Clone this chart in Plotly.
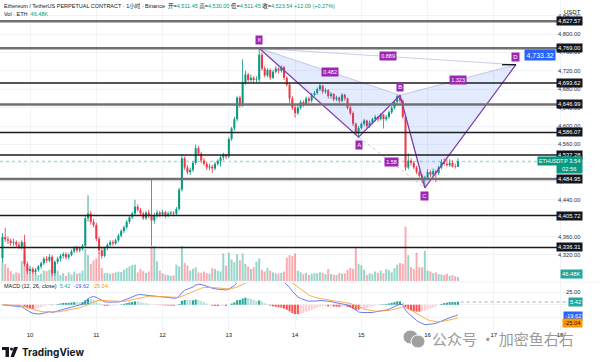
import plotly.graph_objects as go
import pandas as pd

# ---------------- data (hourly candles, x = hours since day "10" 00:00) ----------------
hours = list(range(-10, 156))

opens = [4313,4359,4354,4351,4346,4348,4342,4338,4348,4300,
         4285,4290,4283,4288,4295,4302,4312,4308,4316,4280,
         4305,4312,4318,4322,4315,4320,4328,4335,4330,4334,
         4340,4400,4410,4392,4385,4355,4330,4318,4335,4342,
         4348,4345,4352,4362,4372,4380,4392,4402,4410,4425,
         4418,4410,4400,4412,4405,4395,4405,4412,4408,4413,
         4406,4410,4412,4410,4420,4462,4530,4510,4500,4505,
         4520,4552,4540,4525,4518,4510,4512,4508,4518,4524,
         4532,4538,4534,4572,4595,4615,4662,4645,4695,4712,
         4700,4705,4700,4701,4755,4725,4710,4722,4705,4718,
         4725,4720,4728,4705,4690,4660,4640,4628,4640,4652,
         4648,4660,4655,4668,4672,4680,4688,4675,4678,4665,
         4670,4658,4662,4655,4668,4660,4640,4628,4605,4584,
         4596,4605,4612,4600,4608,4615,4620,4615,4625,4615,
         4620,4630,4640,4652,4665,4655,4620,4510,4525,4520,
         4510,4500,4492,4485,4488,4500,4495,4502,4498,4510,
         4522,4518,4515,4520,4512,4511.45]
highs = [4368,4379,4360,4356,4355,4352,4348,4352,4364,4306,
         4296,4294,4292,4299,4306,4316,4318,4322,4320,4308,
         4316,4322,4326,4326,4324,4332,4339,4340,4338,4344,
         4406,4450,4416,4398,4390,4360,4336,4338,4346,4352,
         4352,4356,4366,4376,4384,4396,4406,4414,4440,4430,
         4422,4414,4416,4418,4483,4412,4418,4416,4418,4416,
         4414,4416,4415,4424,4466,4538,4534,4515,4510,4524,
         4560,4556,4544,4530,4522,4518,4516,4522,4528,4536,
         4542,4540,4576,4598,4620,4665,4666,4745,4720,4716,
         4712,4708,4708,4769,4760,4730,4726,4725,4722,4730,
         4728,4732,4731,4708,4694,4665,4645,4644,4656,4656,
         4664,4664,4672,4676,4684,4692,4690,4682,4680,4674,
         4672,4666,4664,4672,4670,4662,4644,4632,4608,4600,
         4608,4616,4614,4612,4618,4624,4622,4628,4627,4624,
         4634,4644,4656,4668,4668,4658,4624,4541,4530,4524,
         4514,4504,4496,4492,4506,4504,4508,4505,4514,4528,
         4530,4528,4528,4526,4518,4530]
lows = [4305,4348,4344,4340,4340,4336,4333,4332,4295,4278,
        4280,4279,4278,4284,4290,4298,4303,4304,4274,4276,
        4300,4306,4312,4310,4311,4317,4324,4325,4326,4330,
        4336,4392,4386,4380,4350,4322,4312,4315,4330,4338,
        4340,4342,4348,4358,4368,4376,4388,4398,4406,4414,
        4406,4396,4396,4400,4340,4388,4400,4402,4404,4400,
        4402,4405,4404,4406,4416,4458,4505,4495,4494,4500,
        4516,4535,4520,4514,4505,4504,4498,4504,4514,4512,
        4526,4528,4530,4568,4590,4610,4640,4642,4690,4696,
        4695,4694,4694,4696,4720,4706,4706,4700,4702,4714,
        4714,4716,4700,4686,4650,4635,4618,4624,4636,4642,
        4644,4650,4651,4664,4668,4676,4670,4670,4660,4660,
        4654,4654,4650,4652,4655,4636,4624,4600,4580,4576,
        4592,4600,4596,4596,4604,4610,4610,4612,4595,4611,
        4616,4626,4636,4648,4650,4616,4503,4506,4514,4506,
        4496,4488,4476,4466,4484,4490,4491,4478,4494,4506,
        4514,4512,4511,4510,4508,4511.45]
closes = [4359,4354,4351,4346,4348,4342,4338,4348,4300,4285,
          4290,4283,4288,4295,4302,4312,4308,4316,4280,4305,
          4312,4318,4322,4315,4320,4328,4335,4330,4334,4340,
          4400,4410,4392,4385,4355,4330,4318,4335,4342,4348,
          4345,4352,4362,4372,4380,4392,4402,4410,4425,4418,
          4410,4400,4412,4405,4395,4405,4412,4408,4413,4406,
          4410,4412,4410,4420,4462,4530,4510,4500,4505,4520,
          4552,4540,4525,4518,4510,4512,4508,4518,4524,4532,
          4538,4534,4572,4595,4615,4662,4645,4695,4712,4700,
          4705,4700,4701,4755,4725,4710,4722,4705,4718,4725,
          4720,4728,4705,4690,4660,4640,4628,4640,4652,4648,
          4660,4655,4668,4672,4680,4688,4675,4678,4665,4670,
          4658,4662,4655,4668,4660,4640,4628,4605,4584,4596,
          4605,4612,4600,4608,4615,4620,4615,4625,4615,4620,
          4630,4640,4652,4665,4655,4620,4510,4525,4520,4510,
          4500,4492,4485,4488,4500,4495,4502,4498,4510,4522,
          4518,4515,4520,4512,4511.45,4523.54]
volumes_k = [232,197,151,116,81,100,90,232,310,150,
             95,110,90,70,85,120,115,130,175,80,
             120,70,90,60,100,75,110,85,95,120,
             371,300,200,240,260,330,150,90,95,85,
             90,100,110,105,130,150,170,185,190,100,
             140,115,95,110,400,405,230,120,90,75,
             70,60,65,190,170,405,210,180,120,140,
             160,100,95,110,90,85,150,140,120,110,
             320,180,330,250,220,310,240,320,200,170,
             140,160,225,260,130,110,150,120,100,90,
             85,95,110,270,300,290,320,120,100,80,
             95,70,85,90,90,100,95,80,140,80,
             75,70,95,85,90,130,150,140,395,200,
             180,130,70,90,80,110,95,120,90,140,
             125,100,150,190,210,200,630,300,160,140,
             330,160,160,350,120,110,90,100,80,75,
             70,85,60,70,55,46.48]

day_ticks = [0, 24, 48, 72, 96, 120, 144, 168, 192]
day_labels = ["10", "11", "12", "13", "14", "15", "16", "17", "18"]

price_ticks = [4840, 4800, 4760, 4720, 4680, 4640, 4600, 4560, 4520, 4480, 4440, 4400, 4360, 4320]
level_prices = [4827.57, 4769.00, 4693.62, 4646.99, 4586.07, 4537.28, 4484.95, 4405.72, 4336.31]
level_kinds = ["grey", "grey", "black", "grey", "black", "black", "grey", "black", "black"]

pattern_names = ["X", "A", "B", "C", "D"]
pattern_hours = [83, 119, 134, 143, 176]
pattern_prices = [4769.00, 4576.00, 4667.00, 4466.00, 4733.32]
ratio_texts = ["0.482", "1.58", "1.323", "0.889"]
ratio_pairs = [(0, 2), (1, 3), (2, 4), (0, 4)]

last_price = 4523.54
last_vol_text = "46.48K"
macd_tick = 25.0
macd_hist_last, macd_line_last, macd_signal_last = 5.42, -19.62, -25.04

# ---------------- helpers ----------------
W, H = 600, 362
def px(x):
    return x / W
def py(y):
    return 1 - y / H

UP, DOWN = "#089981", "#f23645"
FONT = "Liberation Sans, Noto Sans CJK SC, sans-serif"

x_dom = [0, px(571)]
main_dom = [py(281), 1.0]
macd_dom = [py(330), py(283)]

fig = go.Figure()

is_up = [c >= o for o, c in zip(opens, closes)]
vol_colors = ["rgba(8,153,129,0.42)" if u else "rgba(242,54,69,0.42)" for u in is_up]
candle_colors = [UP if u else DOWN for u in is_up]

# volume
fig.add_trace(go.Bar(x=hours, y=volumes_k, width=0.72, marker_color=vol_colors,
                     marker_line_width=0, xaxis="x", yaxis="y2", hoverinfo="skip"))
# wicks
fig.add_trace(go.Bar(x=hours, y=[h - l for h, l in zip(highs, lows)], base=lows, width=0.3,
                     marker_color=candle_colors, marker_line_width=0, xaxis="x", yaxis="y"))
# bodies
fig.add_trace(go.Bar(x=hours, y=[max(abs(c - o), 1.2) for o, c in zip(opens, closes)],
                     base=[min(o, c) for o, c in zip(opens, closes)], width=0.74,
                     marker_color=candle_colors, marker_line_width=0, xaxis="x", yaxis="y"))

# MACD computed from closes
s = pd.Series(closes)
macd = s.ewm(span=12, adjust=False).mean() - s.ewm(span=26, adjust=False).mean()
signal = macd.ewm(span=9, adjust=False).mean()
hist = (macd - signal).tolist()
hist_colors = []
for k, hv in enumerate(hist):
    prev = hist[k - 1] if k else hv
    if hv >= 0:
        hist_colors.append("#26a69a" if hv >= prev else "#b2dfdb")
    else:
        hist_colors.append("#ffcdd2" if hv > prev else "#ff5252")
fig.add_trace(go.Bar(x=hours, y=hist, width=0.75, marker_color=hist_colors, marker_line_width=0,
                     xaxis="x2", yaxis="y3"))
fig.add_trace(go.Scatter(x=hours, y=macd.tolist(), mode="lines", line=dict(color="#5b6cf0", width=0.9),
                         xaxis="x2", yaxis="y3"))
fig.add_trace(go.Scatter(x=hours, y=signal.tolist(), mode="lines", line=dict(color="#f7a640", width=0.9),
                         xaxis="x2", yaxis="y3"))

# XABCD pattern
X, A, B, C, D = range(5)
def pts(idx):
    return [pattern_hours[i] for i in idx], [pattern_prices[i] for i in idx]
for tri in [(X, A, B, X), (B, C, D, B)]:
    xs, ys = pts(tri)
    fig.add_trace(go.Scatter(x=xs, y=ys, mode="lines", fill="toself",
                             fillcolor="rgba(41,98,255,0.13)", line=dict(width=0),
                             xaxis="x", yaxis="y"))
for a, b in [(X, B), (B, D), (X, D)]:
    xs, ys = pts((a, b))
    fig.add_trace(go.Scatter(x=xs, y=ys, mode="lines", line=dict(color="rgba(150,130,200,0.55)", width=0.8),
                             xaxis="x", yaxis="y"))
xs, ys = pts((A, C))
fig.add_trace(go.Scatter(x=xs, y=ys, mode="lines", line=dict(color="rgba(140,140,160,0.6)", width=0.8, dash="dot"),
                         xaxis="x", yaxis="y"))
xs, ys = pts((X, A, B, C, D))
fig.add_trace(go.Scatter(x=xs, y=ys, mode="lines", line=dict(color="#7e3fb2", width=1.3),
                         xaxis="x", yaxis="y"))
# target tick at D
fig.add_trace(go.Scatter(x=[pattern_hours[D] - 5, pattern_hours[D]], y=[pattern_prices[D]] * 2,
                         mode="lines", line=dict(color="#131722", width=1.4), xaxis="x", yaxis="y"))

shapes = []
for p, kind in zip(level_prices, level_kinds):
    shapes.append(dict(type="line", xref="paper", yref="y", x0=0, x1=px(571), y0=p, y1=p,
                       line=dict(color="#707070" if kind == "grey" else "#1c1c1c",
                                 width=2.4 if kind == "grey" else 1.6), layer="above"))
shapes.append(dict(type="line", xref="paper", yref="y", x0=0, x1=px(571), y0=last_price, y1=last_price,
                   line=dict(color="rgba(8,153,129,0.45)", width=1, dash="dot"), layer="below"))
shapes.append(dict(type="line", xref="x2", yref="y3", x0=hours[-1] + 1, x1=196,
                   y0=macd_hist_last, y1=macd_hist_last,
                   line=dict(color="rgba(120,120,120,0.6)", width=1, dash="dot")))
shapes.append(dict(type="line", xref="paper", yref="paper", x0=0, x1=1, y0=py(282), y1=py(282),
                   line=dict(color="#eef0f4", width=1)))
# wechat icon (watermark decoration)
shapes.append(dict(type="circle", xref="paper", yref="paper", x0=px(403), x1=px(418), y0=py(344), y1=py(330),
                   fillcolor="#a0a0a0", line=dict(color="white", width=1)))
shapes.append(dict(type="circle", xref="paper", yref="paper", x0=px(411), x1=px(425), y0=py(348), y1=py(335),
                   fillcolor="#a0a0a0", line=dict(color="white", width=1)))
# TradingView logo
shapes.append(dict(type="rect", xref="paper", yref="paper", x0=px(2), x1=px(9), y0=py(350), y1=py(347),
                   fillcolor="#131722", line_width=0))
shapes.append(dict(type="rect", xref="paper", yref="paper", x0=px(5.5), x1=px(9), y0=py(357), y1=py(347),
                   fillcolor="#131722", line_width=0))
shapes.append(dict(type="circle", xref="paper", yref="paper", x0=px(10), x1=px(13), y0=py(350.5), y1=py(347.5),
                   fillcolor="#131722", line_width=0))
shapes.append(dict(type="path", xref="paper", yref="paper",
                   path=f"M {px(14)} {py(347)} L {px(18)} {py(347)} L {px(14)} {py(357)} L {px(10.5)} {py(357)} Z",
                   fillcolor="#131722", line_width=0))

ann = []
hdr = ("Ethereum / TetherUS PERPETUAL CONTRACT · 1小时 · Binance  "
       "开=<span style='color:#089981'>4,511.45</span> 高=<span style='color:#089981'>4,530.00</span> "
       "低=<span style='color:#089981'>4,511.45</span> 收=<span style='color:#089981'>4,523.54</span> "
       "<span style='color:#089981'>+12.09 (+0.27%)</span>")
ann.append(dict(text=hdr, xref="paper", yref="paper", x=px(2), y=py(6), xanchor="left", yanchor="middle",
                showarrow=False, font=dict(size=5.5, color="#131722", family=FONT)))
ann.append(dict(text="Vol · ETH  <span style='color:#089981'>46.48K</span>", xref="paper", yref="paper",
                x=px(2), y=py(13.5), xanchor="left", yanchor="middle", showarrow=False,
                font=dict(size=5.5, color="#131722", family=FONT)))
ann.append(dict(text="USDT", xref="paper", yref="paper", x=px(583), y=py(7), showarrow=False,
                font=dict(size=6, color="#131722", family=FONT)))
ann.append(dict(text=("MACD (12, 26, close)  <span style='color:#26a69a'>5.42</span>  "
                      "<span style='color:#2962ff'>-19.62</span>  <span style='color:#ff9800'>-25.04</span>"),
                xref="paper", yref="paper", x=px(2), y=py(286), xanchor="left", yanchor="middle",
                showarrow=False, font=dict(size=5.5, color="#131722", family=FONT)))

def axis_text(text, yref, y, bg=None, fg="#2a2e39", yshift=0, size=5.8):
    d = dict(text=text, xref="paper", yref=yref, x=px(582.5), y=y, yshift=yshift, showarrow=False,
             font=dict(size=size, color=fg, family=FONT))
    if bg:
        d.update(bgcolor=bg, borderpad=1)
    return d

# plain price-scale tick labels (drawn first so boxes cover them)
for t in price_ticks:
    ann.append(axis_text(f"{t:,.2f}", "y", t))
ann.append(axis_text(f"{macd_tick:.2f}", "y3", macd_tick))
for p in level_prices:
    ann.append(axis_text(f"{p:,.2f}", "y", p, bg="#131722", fg="white"))
ann.append(axis_text(f"{last_price:,.2f}<br>02:56", "y", last_price, bg="#089981", fg="white", yshift=-3.5))
ann.append(dict(text="ETHUSDT.P", xref="paper", yref="y", x=px(569.5), y=last_price, xanchor="right",
                showarrow=False, bgcolor="#089981", borderpad=1, font=dict(size=5.2, color="white", family=FONT)))
ann.append(axis_text(last_vol_text, "y2", volumes_k[-1], bg="#26a69a", fg="white", yshift=3))
ann.append(axis_text(f"{macd_hist_last:.2f}", "y3", macd_hist_last, bg="#26a69a", fg="white"))
ann.append(axis_text(f"{macd_line_last:.2f}", "y3", macd_line_last, bg="#2962ff", fg="white", yshift=-1))
ann.append(axis_text(f"{macd_signal_last:.2f}", "y3", macd_signal_last, bg="#ff9800", fg="#131722", yshift=-5.5))

for name, hx, hp in zip(pattern_names, pattern_hours, pattern_prices):
    below = name in ("A", "C")
    ann.append(dict(text=name, xref="x", yref="y", x=hx, y=hp, yshift=-8 if below else 8,
                    showarrow=False, bgcolor="#9c27b0", borderpad=1.2,
                    font=dict(size=5.8, color="white", family=FONT)))
for t, (a, b) in zip(ratio_texts, ratio_pairs):
    ann.append(dict(text=t, xref="x", yref="y", x=(pattern_hours[a] + pattern_hours[b]) / 2,
                    y=(pattern_prices[a] + pattern_prices[b]) / 2, showarrow=False,
                    bgcolor="#9c27b0", borderpad=1.2, font=dict(size=5.5, color="white", family=FONT)))
ann.append(dict(text=f"{pattern_prices[D]:,.2f}", xref="x", yref="y", x=pattern_hours[D], y=pattern_prices[D],
                xanchor="left", xshift=8, yshift=10, showarrow=False, bgcolor="#2962ff", borderpad=1.5,
                font=dict(size=7, color="white", family=FONT)))
ann.append(dict(text="公众号 · 加密鱼右右", xref="paper", yref="paper", x=px(430), y=py(338),
                xanchor="left", yanchor="middle", showarrow=False,
                font=dict(size=15, color="#9a9a9a", family="Noto Sans CJK SC")))
ann.append(dict(text="<b>TradingView</b>", xref="paper", yref="paper", x=px(20), y=py(352.5),
                xanchor="left", yanchor="middle", showarrow=False,
                font=dict(size=10, color="#131722", family="Inter, Liberation Sans")))

fig.update_layout(
    width=W, height=H, margin=dict(l=0, r=0, t=0, b=0),
    paper_bgcolor="white", plot_bgcolor="white", showlegend=False, barmode="overlay",
    hovermode=False, shapes=shapes, annotations=ann,
    xaxis=dict(domain=x_dom, range=[-10.885, 195.94], anchor="y", tickvals=day_ticks,
               showticklabels=False, showgrid=True, gridcolor="#f2f3f7", zeroline=False, ticks=""),
    xaxis2=dict(domain=x_dom, matches="x", anchor="y3", tickvals=day_ticks, ticktext=day_labels,
                showticklabels=True, showgrid=True, gridcolor="#f2f3f7", zeroline=False, ticks="",
                tickfont=dict(size=6, color="#131722", family=FONT)),
    yaxis=dict(domain=main_dom, range=[4263.5, 4873.85], side="right", anchor="x", tickvals=price_ticks,
               showticklabels=False, showgrid=True, gridcolor="#f2f3f7", zeroline=False, ticks=""),
    yaxis2=dict(overlaying="y", range=[0, 3265], visible=False, anchor="x"),
    yaxis3=dict(domain=macd_dom, range=[-49.5, 42.7], side="right", anchor="x2",
                tickvals=[25, 0, -25], showticklabels=False, showgrid=True, gridcolor="#f2f3f7",
                zeroline=False, ticks=""),
)

fig.write_html("out.html", config={"displayModeBar": False, "staticPlot": True},
               post_script="document.body.style.margin='0';document.body.style.overflow='hidden';")
